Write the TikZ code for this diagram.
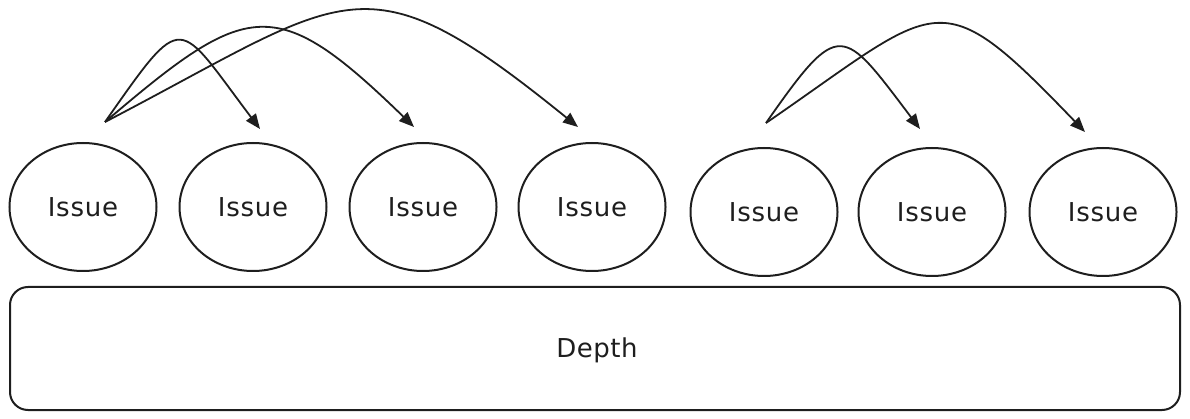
\documentclass[tikz,border=0pt]{standalone}
\usepackage{fontspec}
\setmainfont{DejaVu Sans}
\usetikzlibrary{shapes.geometric,arrows.meta,calc}
\definecolor{ink}{HTML}{1E1E1E}
\begin{document}
\begin{tikzpicture}[x=1pt,y=-1pt,
  issue/.style={ellipse,draw=ink,line width=2pt,minimum width=147pt,minimum height=128pt,inner sep=0pt,text=ink,
    font=\fontsize{26}{30}\selectfont\addfontfeature{LetterSpace=3}},
  base/.style={draw=ink,line width=2pt,rounded corners=18pt},
  lbl/.style={text=ink,font=\fontsize{26}{30}\selectfont\addfontfeature{LetterSpace=2}},
  jump/.style={draw=ink,line width=1.8pt,-{Triangle[length=15pt,width=12pt]}}
]
\useasboundingbox (0,0) rectangle (1190,419);

\node[issue] (c1) at (83,207) {Issue};
\node[issue] (c2) at (253,207) {Issue};
\node[issue] (c3) at (423,207) {Issue};
\node[issue] (c4) at (592,207) {Issue};
\node[issue] (c5) at (764,212) {Issue};
\node[issue] (c6) at (932,212) {Issue};
\node[issue] (c7) at (1103,212) {Issue};

\draw[base] (10,287) rectangle (1180,410);
\node[lbl] (depth) at (597,350) {Depth};

\coordinate (s1) at ($(c1.north)+(22,-20)$);
\coordinate (s2) at ($(c5.north)+(2,-24)$);
\coordinate (e2) at ($(c2.north)+(7,-13)$);
\coordinate (e3) at ($(c3.north)+(-9,-15)$);
\coordinate (e4) at ($(c4.north)+(-14,-15)$);
\coordinate (e6) at ($(c6.north)+(-12,-18)$);
\coordinate (e7) at ($(c7.north)+(-18,-15)$);

\draw[jump] (s1) .. controls (185,8) and (176,18) .. (e2);
\draw[jump] (s1) .. controls (248,0) and (275,-8) .. (e3);
\draw[jump] (s1) .. controls (351,-6) and (362,-48) .. (e4);
\draw[jump] (s2) .. controls (840,17) and (842,26) .. (e6);
\draw[jump] (s2) .. controls (942,2) and (937,-22) .. (e7);
\end{tikzpicture}
\end{document}
